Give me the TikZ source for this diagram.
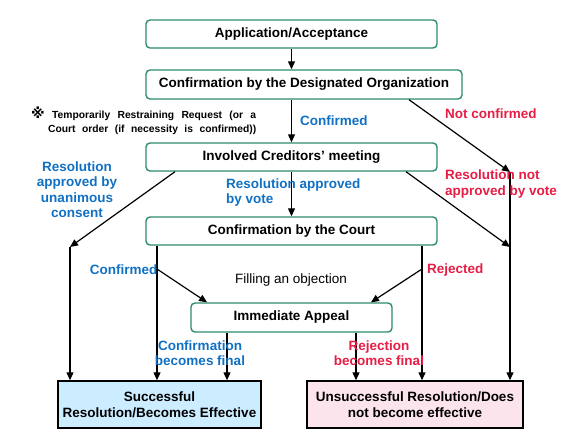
\documentclass[tikz,border=0pt]{standalone}
\usepackage{fontspec}
\setmainfont{Liberation Sans}
\newfontfamily\symf{DejaVu Sans}
\usetikzlibrary{arrows.meta,calc}
\definecolor{tealb}{RGB}{46,139,111}
\definecolor{bluet}{RGB}{16,112,196}
\definecolor{redt}{RGB}{230,30,70}
\definecolor{sfill}{RGB}{204,236,255}
\definecolor{ufill}{RGB}{252,228,236}
\tikzset{
  fs/.style={font=\fontsize{13.5}{15.5}\selectfont\bfseries},
  box/.style={draw=tealb, line width=1.4pt, rounded corners=4pt, fill=white, fs, inner sep=0pt, align=center},
  resbox/.style={draw=black, line width=1.4pt, fs, inner sep=0pt, align=center},
  arr/.style={-{Triangle[length=8pt,width=7pt]}, line width=1.2pt},
  lbl/.style={fs, inner sep=0pt},
  bl/.style={lbl, text=bluet},
  rd/.style={lbl, text=redt},
}
\begin{document}
\begin{tikzpicture}[x=1pt,y=-1pt]
\useasboundingbox (0,0) rectangle (571,446);
% boxes
\node[box, minimum width=291pt, minimum height=28pt] (app) at (291.5,34) {Application/Acceptance};
\node[box, minimum width=316pt, minimum height=29pt] (desig) at (304,84.5) {Confirmation by the Designated Organization};
\node[box, minimum width=291pt, minimum height=28pt] (meet) at (291.5,157) {Involved Creditors’ meeting};
\node[box, minimum width=291pt, minimum height=28pt] (court) at (291.5,231) {Confirmation by the Court};
\node[box, minimum width=201pt, minimum height=29pt] (appeal) at (291.5,317.5) {Immediate Appeal};
\node[resbox, fill=sfill, minimum width=203pt, minimum height=47pt] (succ) at (159.5,404.5) {Successful\\Resolution/Becomes Effective};
\node[resbox, fill=ufill, minimum width=216pt, minimum height=47pt] (unsucc) at (415,404.5) {Unsuccessful Resolution/Does\\not become effective};
% helper coordinates
\coordinate (nc) at (510,172);
\coordinate (lu) at (70,247);
\coordinate (rn) at (510,247);
\coordinate (cl) at (157,269);
\coordinate (cr) at (422,269);
\coordinate (a1) at ([xshift=-64.5pt]appeal.south);
\coordinate (a2) at ([xshift=64.5pt]appeal.south);
% connectors
\draw[arr] (app.south) -- (app.south |- desig.north);
\draw[arr] (desig.south -| meet.north) -- (meet.north);
\draw[arr] ([xshift=105pt]desig.south) -- (nc);
\draw[arr] ([xshift=-116.5pt]meet.south) -- (lu);
\draw[arr] (meet.south) -- (court.north);
\draw[arr] ([xshift=114.5pt]meet.south) -- (rn);
\draw[arr] (nc) -- (nc |- unsucc.north);
\draw[arr] (lu) -- (lu |- succ.north);
\draw[arr] (court.south -| cl) -- (succ.north -| cl);
\draw[arr] (court.south -| cr) -- (unsucc.north -| cr);
\draw[arr] (cl) -- ([xshift=-84.5pt]appeal.north);
\draw[arr] (cr) -- ([xshift=79.5pt]appeal.north);
\draw[arr] (a1) -- (a1 |- succ.north);
\draw[arr] (a2) -- (a2 |- unsucc.north);
% labels
\node[bl, anchor=west] (lconf) at (300,121) {Confirmed};
\node[rd, anchor=west] (lnot) at (445,114) {Not confirmed};
\node[lbl, anchor=north west, font=\fontsize{10.3}{14}\selectfont\bfseries, align=left] (note) at (31,107)
  {\makebox[225pt][s]{{\symf\bfseries\fontsize{14}{14}\selectfont ※} Temporarily Restraining Request (or a}\\
   \hspace*{17pt}\makebox[208pt][s]{Court order (if necessity is confirmed))}};
\node[bl, align=center] (lunan) at (77,189.5) {Resolution\\approved by\\unanimous\\consent};
\node[bl, align=left, anchor=west] (lvote) at (226,192.5) {Resolution approved\\by vote};
\node[rd, align=left, anchor=west] (lnotv) at (445,184) {Resolution not\\approved by vote};
\node[bl, anchor=east] (lconf2) at (157.5,270) {Confirmed};
\node[rd, anchor=west] (lrej) at (427,270) {Rejected};
\node[lbl, font=\fontsize{13.5}{15.5}\selectfont] (lobj) at (291,280) {Filling an objection};
\node[bl, align=center] (lcf) at (200,353) {Confirmation\\becomes final};
\node[rd, align=center] (lrf) at (379,353) {Rejection\\becomes final};
\end{tikzpicture}
\end{document}
